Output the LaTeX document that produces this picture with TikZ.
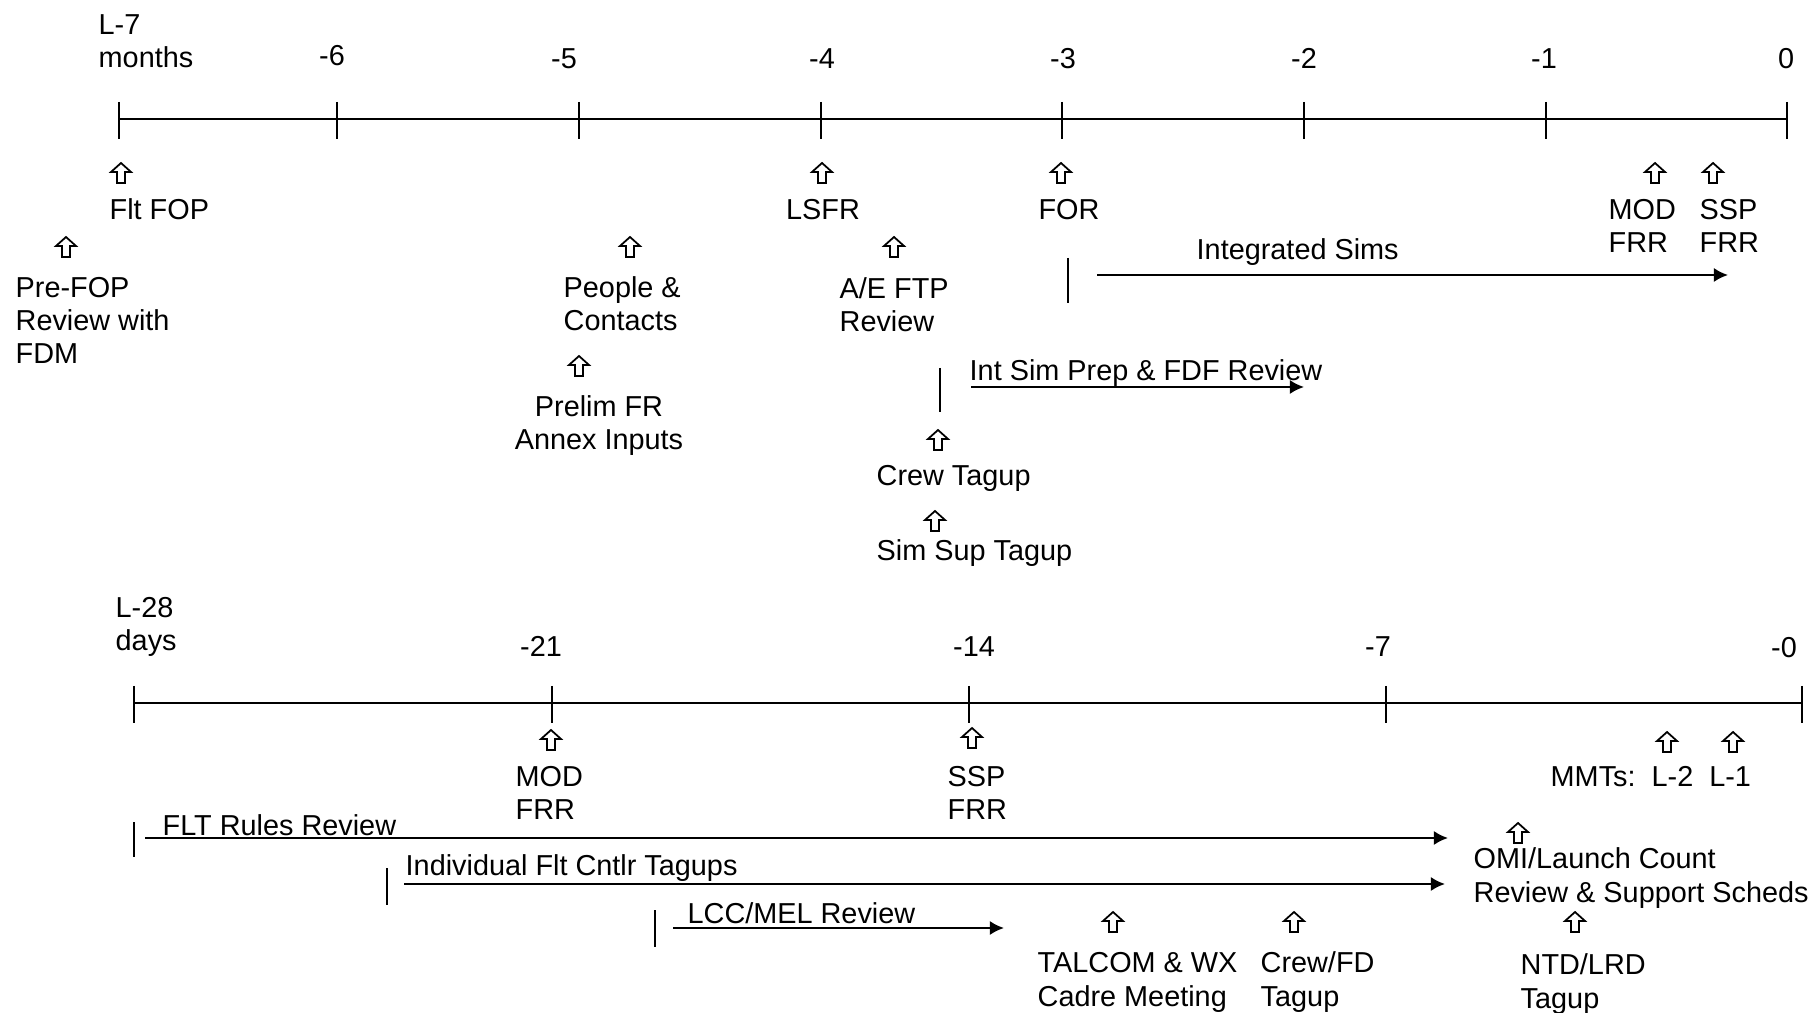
\documentclass[tikz,border=0pt]{standalone}
\usepackage{fontspec}
\setmainfont{Liberation Sans}
\usetikzlibrary{arrows.meta}

\begin{document}
\begin{tikzpicture}[x=0.01cm,y=-0.01cm]

\tikzset{lbl/.style = {anchor=base west,inner sep=0pt,align=left,font=\fontsize{8.2}{9.4}\selectfont}}
\tikzset{num/.style = {anchor=base,inner sep=0pt,font=\fontsize{8.2}{9.4}\selectfont}}
\tikzset{axis/.style = {line width=0.6pt}}
\tikzset{span/.style = {-{Latex[length=4pt,width=4pt]},line width=0.6pt}}
\tikzset{uparr/.pic = {\draw[line width=0.5pt] (0,0) -- (10,9) -- (4,9) -- (4,20) -- (-4,20) -- (-4,9) -- (-10,9) -- cycle;}}

\useasboundingbox (0,0) rectangle (1818,1013);

% months axis
\coordinate (m7) at (119,119);
\coordinate (m6) at (337,119);
\coordinate (m5) at (579,119);
\coordinate (m4) at (821,119);
\coordinate (m3) at (1062,119);
\coordinate (m2) at (1304,119);
\coordinate (m1) at (1546,119);
\coordinate (m0) at (1787,119);
\draw[axis] (m7) -- (m0);
\draw[axis] (m7) ++(0,-17) -- ++(0,37);
\draw[axis] (m6) ++(0,-17) -- ++(0,37);
\draw[axis] (m5) ++(0,-17) -- ++(0,37);
\draw[axis] (m4) ++(0,-17) -- ++(0,37);
\draw[axis] (m3) ++(0,-17) -- ++(0,37);
\draw[axis] (m2) ++(0,-17) -- ++(0,37);
\draw[axis] (m1) ++(0,-17) -- ++(0,37);
\draw[axis] (m0) ++(0,-17) -- ++(0,37);

% months labels (multi-line nodes sit on their last line)
\node[lbl] (lm7) at (98,68) {L-7\\months};
\node[num] (lm6) at (332,66) {-6};
\node[num] (lm5) at (564,69) {-5};
\node[num] (lm4) at (822,69) {-4};
\node[num] (lm3) at (1063,69) {-3};
\node[num] (lm2) at (1304,69) {-2};
\node[num] (lm1) at (1544,69) {-1};
\node[num] (lm0) at (1786,69) {0};

% months events
\pic (a1) at (121,163) {uparr};
\node[lbl] (fltfop) at (109,220) {Flt FOP};
\pic (a2) at (66,237) {uparr};
\node[lbl] (prefop) at (15,364) {Pre-FOP\\Review with\\FDM};
\pic (a3) at (822,163) {uparr};
\node[num] (lsfr) at (823,220) {LSFR};
\pic (a4) at (1061,163) {uparr};
\node[num] (for) at (1069,220) {FOR};
\pic (a5) at (630,237) {uparr};
\node[lbl] (people) at (563,331) {People \&\\Contacts};
\pic (a6) at (894,237) {uparr};
\node[lbl] (aeftp) at (839,332) {A/E FTP\\Review};
\pic (a7) at (579,356) {uparr};
\node[num,align=center] (prelim) at (599,450) {Prelim FR\\Annex Inputs};
\pic (a8) at (938,430) {uparr};
\node[lbl] (crew) at (876,486) {Crew Tagup};
\pic (a9) at (935,511) {uparr};
\node[lbl] (simsup) at (876,561) {Sim Sup Tagup};
\pic (a10) at (1655,163) {uparr};
\node[lbl] (modfrr) at (1608,253) {MOD\\FRR};
\pic (a11) at (1713,163) {uparr};
\node[lbl] (sspfrr) at (1699,253) {SSP\\FRR};

% months spans
\coordinate (is0) at (1068,275);
\coordinate (is1) at (1097,275);
\coordinate (is2) at (1728,275);
\draw[axis] (is0) ++(0,-17) -- ++(0,45);
\draw[span] (is1) -- (is2);
\node[lbl] (intsims) at (1196,260) {Integrated Sims};
\coordinate (ip0) at (940,387);
\coordinate (ip1) at (971,387);
\coordinate (ip2) at (1304,387);
\draw[axis] (ip0) ++(0,-19) -- ++(0,44);
\draw[span] (ip1) -- (ip2);
\node[lbl] (intprep) at (969,381) {Int Sim Prep \& FDF Review};

% days axis
\coordinate (d28) at (134,703);
\coordinate (d21) at (552,703);
\coordinate (d14) at (969,703);
\coordinate (d7) at (1386,703);
\coordinate (d0) at (1802,703);
\draw[axis] (d28) -- (d0);
\draw[axis] (d28) ++(0,-17) -- ++(0,37);
\draw[axis] (d21) ++(0,-17) -- ++(0,37);
\draw[axis] (d14) ++(0,-17) -- ++(0,37);
\draw[axis] (d7) ++(0,-17) -- ++(0,37);
\draw[axis] (d0) ++(0,-17) -- ++(0,37);

% days labels
\node[lbl] (ld28) at (115,651) {L-28\\days};
\node[num] (ld21) at (541,657) {-21};
\node[num] (ld14) at (974,657) {-14};
\node[num] (ld7) at (1378,657) {-7};
\node[num] (ld0) at (1784,658) {-0};

% days events
\pic (b1) at (551,730) {uparr};
\node[lbl] (dmod) at (515,820) {MOD\\FRR};
\pic (b2) at (972,728) {uparr};
\node[lbl] (dssp) at (947,820) {SSP\\FRR};
\pic (b3) at (1667,732) {uparr};
\pic (b4) at (1733,732) {uparr};
\node[lbl] (mmts) at (1550,787) {MMTs:\ \ L-2\ \ L-1};
\pic (b5) at (1518,823) {uparr};
\node[lbl] (omi) at (1473,902) {OMI/Launch Count\\Review \& Support Scheds};
\pic (b6) at (1575,912) {uparr};
\node[lbl] (ntd) at (1520,1008) {NTD/LRD\\Tagup};
\pic (b7) at (1113,912) {uparr};
\node[lbl] (talcom) at (1037,1006) {TALCOM \& WX\\Cadre Meeting};
\pic (b8) at (1294,912) {uparr};
\node[lbl] (crewfd) at (1260,1006) {Crew/FD\\Tagup};

% days spans
\coordinate (fr0) at (134,838);
\coordinate (fr1) at (145,838);
\coordinate (fr2) at (1448,838);
\draw[axis] (fr0) ++(0,-16) -- ++(0,35);
\draw[span] (fr1) -- (fr2);
\node[lbl] (fltrules) at (162,835) {FLT Rules Review};
\coordinate (ft0) at (387,884);
\coordinate (ft1) at (404,884);
\coordinate (ft2) at (1445,884);
\draw[axis] (ft0) ++(0,-16) -- ++(0,37);
\draw[span] (ft1) -- (ft2);
\node[lbl] (indiv) at (405,875) {Individual Flt Cntlr Tagups};
\coordinate (lc0) at (655,928);
\coordinate (lc1) at (673,928);
\coordinate (lc2) at (1004,928);
\draw[axis] (lc0) ++(0,-18) -- ++(0,37);
\draw[span] (lc1) -- (lc2);
\node[lbl] (lccmel) at (687,923) {LCC/MEL Review};

\end{tikzpicture}
\end{document}
